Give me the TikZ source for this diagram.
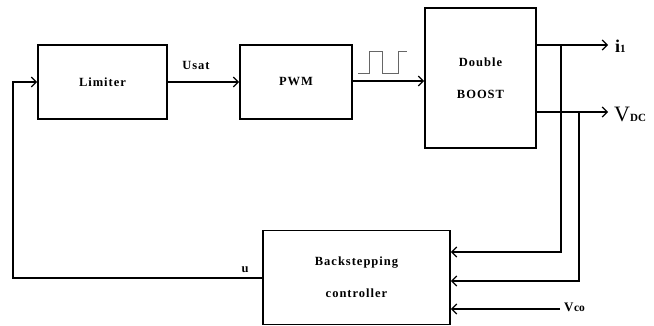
\documentclass[tikz,border=0pt]{standalone}
\usepackage{fontspec}
\setmainfont{Liberation Serif}
\newfontfamily\lblfont[LetterSpace=8]{Liberation Serif}
\usetikzlibrary{arrows.meta}
\tikzset{
  blk/.style={draw, line width=1.8pt, inner sep=0pt, font=\lblfont\bfseries\fontsize{12.5}{14}\selectfont, align=center},
  arr/.style={line width=1.2pt, -{Straight Barb[length=5pt,width=10pt,line width=1.2pt]}},
  wire/.style={line width=1.2pt},
  lbl/.style={inner sep=0pt, font=\lblfont\bfseries\fontsize{12.5}{14}\selectfont},
}
\begin{document}
\begin{tikzpicture}[x=1pt,y=-1pt]
\useasboundingbox (0,0) rectangle (654,326);
% blocks
\node[blk, minimum width=129pt, minimum height=74pt] (limiter) at (102.5,82) {Limiter};
\node[blk, minimum width=112pt, minimum height=74pt] (pwm) at (296,82) {PWM};
\node[blk, minimum width=111pt, minimum height=140pt] (boost) at (480.5,78) {Double\\[18pt]BOOST};
\node[blk, minimum width=187pt, minimum height=94pt] (back) at (356.5,277.5) {Backstepping\\[18pt]controller};
% coordinates
\coordinate (i1end) at (608,45);
\coordinate (vdcend) at (608,112);
\coordinate (t1) at (561,45);
\coordinate (t1b) at (561,252);
\coordinate (t2) at (579,112);
\coordinate (t2b) at (579,281);
\coordinate (vco) at (560,309);
\coordinate (fb) at (13,278);
\coordinate (pin) at (240,81);
% forward path
\draw[arr] (limiter) -- (pwm);
\draw[arr] (pwm.east |- pin) -- (boost.west |- pin);
\draw[arr] (boost.east |- i1end) -- (i1end);
\draw[arr] (boost.east |- vdcend) -- (vdcend);
% feedback taps
\draw[arr] (t1) -- (t1b) -- (t1b -| back.east);
\draw[arr] (t2) -- (t2b) -- (t2b -| back.east);
\draw[arr] (vco) -- (vco -| back.east);
% control output to limiter
\draw[arr] (back.west |- fb) -- (fb) |- (limiter.west);
% pulse symbol
\draw[gray!80!black, line width=1pt] (358,74) -- (369,74) -- (369,52) -- (382,52) -- (382,74) -- (398,74) -- (398,52) -- (407,52);
% labels
\node[lbl] (usat) at (196,65) {Usat};
\node[lbl] (ulbl) at (245,270) {u};
\node[inner sep=0pt, anchor=west, font=\bfseries\fontsize{18}{20}\selectfont] (i1) at (615,46) {i{\fontsize{11}{12}\selectfont 1}};
\node[inner sep=0pt, anchor=west, font=\fontsize{22}{24}\selectfont] (vdc) at (614,114) {V{\bfseries\fontsize{11}{12}\selectfont DC}};
\node[inner sep=0pt, anchor=west, font=\bfseries\fontsize{13}{14}\selectfont] (vcol) at (564,307) {V\kern0.5pt{\fontsize{11.5}{12}\selectfont co}};
\end{tikzpicture}
\end{document}
